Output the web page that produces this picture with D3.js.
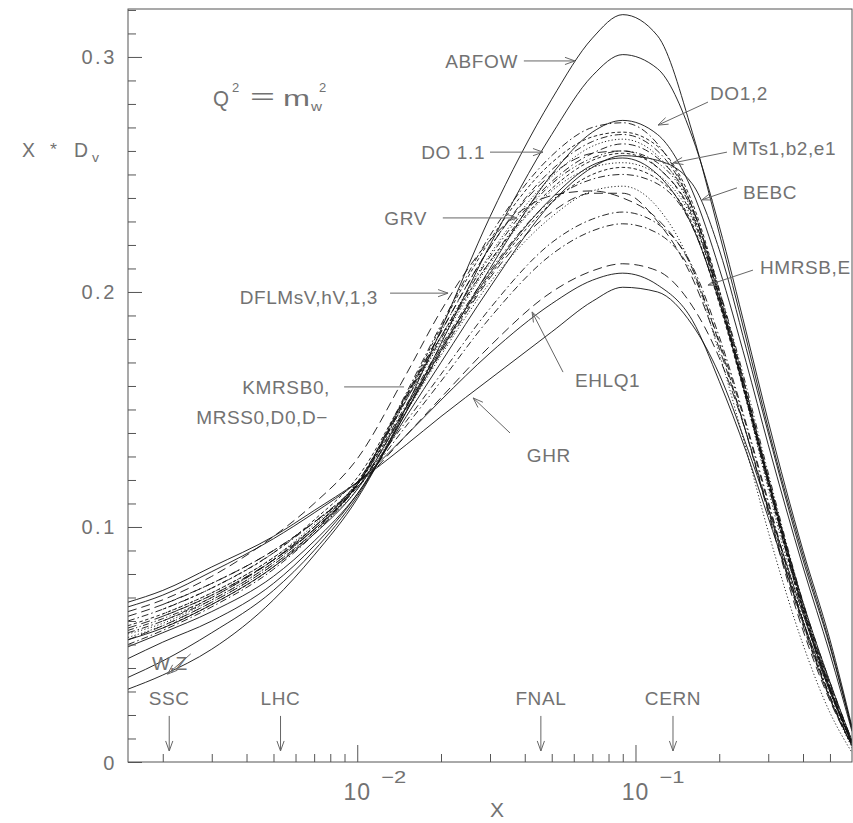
<!DOCTYPE html>
<html><head><meta charset="utf-8">
<script src="https://cdn.jsdelivr.net/npm/d3@7"></script>
<style>html,body{margin:0;padding:0;background:#fff;}svg{display:block;}</style>
</head><body>
<svg id="chart" width="853" height="823"></svg>
<script>
// ---------- data ----------
const xNodes = [0.0015,0.002,0.003,0.005,0.007,0.01,0.015,0.02,0.03,0.05,0.07,0.09,0.12,0.16,0.2,0.25,0.3,0.4,0.5,0.6];

const abfowA = [0.031,0.037,0.048,0.069,0.088,0.112,0.151,0.184,0.232,0.282,0.308,0.318,0.309,0.268,0.225,0.180,0.142,0.088,0.050,0.014];
const abfowB = [0.036,0.043,0.055,0.073,0.090,0.113,0.149,0.178,0.220,0.267,0.292,0.301,0.295,0.266,0.228,0.183,0.145,0.090,0.052,0.015];
const do12   = [0.044,0.051,0.060,0.076,0.092,0.114,0.149,0.175,0.210,0.250,0.268,0.273,0.267,0.243,0.210,0.170,0.135,0.083,0.046,0.013];
const bebc   = [0.049,0.055,0.064,0.079,0.094,0.114,0.147,0.170,0.202,0.238,0.253,0.258,0.256,0.246,0.218,0.176,0.140,0.086,0.049,0.014];
const mtSol  = [0.052,0.057,0.067,0.083,0.097,0.116,0.151,0.176,0.208,0.240,0.254,0.257,0.250,0.228,0.196,0.155,0.120,0.068,0.034,0.009];
const ehlq1  = [0.066,0.071,0.081,0.095,0.106,0.119,0.139,0.154,0.174,0.195,0.205,0.208,0.203,0.188,0.162,0.132,0.104,0.060,0.030,0.008];
const ghr    = [0.068,0.073,0.083,0.096,0.107,0.119,0.135,0.147,0.163,0.183,0.196,0.202,0.200,0.186,0.165,0.135,0.108,0.063,0.031,0.008];
const dflms  = [0.064,0.069,0.079,0.096,0.110,0.129,0.165,0.192,0.222,0.241,0.243,0.240,0.231,0.210,0.178,0.140,0.106,0.056,0.026,0.007];
const kmrsb  = [0.050,0.056,0.066,0.082,0.097,0.118,0.157,0.186,0.224,0.258,0.270,0.272,0.263,0.236,0.198,0.155,0.118,0.064,0.030,0.008];
const mrss0  = [null,0.062,0.071,0.086,0.100,0.119,0.156,0.183,0.219,0.252,0.264,0.267,0.260,0.236,0.199,0.156,0.119,0.065,0.031,0.008];
const mrsd0  = [0.055,0.060,0.070,0.086,0.100,0.119,0.155,0.181,0.215,0.247,0.259,0.263,0.257,0.236,0.200,0.158,0.121,0.066,0.032,0.008];
const grv    = [0.0545,0.059,0.069,0.085,0.099,0.118,0.154,0.181,0.216,0.249,0.262,0.265,0.258,0.234,0.197,0.154,0.116,0.061,0.027,0.006];
const dflm1  = [0.053,0.058,0.068,0.084,0.098,0.116,0.149,0.173,0.204,0.232,0.243,0.245,0.236,0.210,0.174,0.133,0.098,0.050,0.021,0.004];
const mts1   = [null,0.065,0.074,0.089,0.103,0.121,0.156,0.181,0.213,0.244,0.256,0.259,0.253,0.232,0.197,0.155,0.119,0.065,0.031,0.008];
const mtb2   = [0.058,0.063,0.072,0.087,0.100,0.118,0.151,0.175,0.207,0.238,0.250,0.253,0.248,0.229,0.195,0.154,0.118,0.064,0.030,0.008];
const hmrsb  = [0.060,0.065,0.074,0.089,0.102,0.118,0.145,0.165,0.193,0.221,0.231,0.234,0.229,0.211,0.181,0.144,0.111,0.060,0.028,0.007];
const hmrse  = [null,0.067,0.076,0.090,0.102,0.117,0.143,0.162,0.189,0.216,0.226,0.229,0.225,0.208,0.179,0.143,0.110,0.060,0.028,0.007];
const ehlq2  = [0.062,0.067,0.076,0.090,0.102,0.117,0.139,0.155,0.177,0.200,0.209,0.212,0.209,0.194,0.172,0.140,0.108,0.059,0.027,0.007];
const dflm3  = [0.057,0.062,0.071,0.086,0.099,0.117,0.150,0.174,0.206,0.234,0.242,0.242,0.230,0.206,0.176,0.140,0.107,0.058,0.027,0.007];
const mrsdm  = [0.052,0.058,0.068,0.084,0.098,0.118,0.155,0.183,0.219,0.250,0.259,0.260,0.253,0.233,0.198,0.157,0.121,0.067,0.033,0.009];
const mte1   = [null,0.063,0.072,0.087,0.101,0.119,0.154,0.179,0.212,0.243,0.253,0.255,0.250,0.231,0.198,0.157,0.121,0.067,0.033,0.009];
const do11   = [null,0.057,0.067,0.083,0.098,0.118,0.156,0.185,0.222,0.255,0.266,0.268,0.262,0.238,0.201,0.158,0.120,0.065,0.031,0.008];
const dflhv  = [0.056,0.061,0.070,0.086,0.099,0.118,0.154,0.180,0.213,0.246,0.257,0.260,0.255,0.235,0.201,0.160,0.123,0.068,0.034,0.009];
const kmrsx  = [null,0.060,0.069,0.085,0.099,0.118,0.152,0.177,0.209,0.239,0.248,0.250,0.246,0.228,0.196,0.156,0.120,0.066,0.032,0.008];

const series = [
  {values: abfowA, kind: "solid"},
  {values: abfowB, kind: "solid"},
  {values: do12,   kind: "solid"},
  {values: bebc,   kind: "solid"},
  {values: mtSol,  kind: "solid"},
  {values: ehlq1,  kind: "solid"},
  {values: ghr,    kind: "solid"},
  {values: dflms,  kind: "dashed"},
  {values: kmrsb,  kind: "dashdot"},
  {values: mrss0,  kind: "dashdot"},
  {values: mrsd0,  kind: "dashdot"},
  {values: grv,    kind: "dotted"},
  {values: dflm1,  kind: "dotted"},
  {values: mts1,   kind: "short"},
  {values: mtb2,   kind: "short"},
  {values: hmrsb,  kind: "dashdot"},
  {values: hmrse,  kind: "dashdot"},
  {values: ehlq2,  kind: "dashed"},
  {values: dflm3,  kind: "dashed"},
  {values: mrsdm,  kind: "dashed"},
  {values: mte1,   kind: "dotted"},
  {values: do11,   kind: "short"},
  {values: dflhv,  kind: "dashdotdot"},
  {values: kmrsx,  kind: "dashdot"}
];

const xMajorTicks = [0.01, 0.1];
const xMajorExp = ["\u22122", "\u22121"];
const xMinorTicks = [0.002,0.003,0.004,0.005,0.006,0.007,0.008,0.009,0.02,0.03,0.04,0.05,0.06,0.07,0.08,0.09,0.2,0.3,0.4,0.5];
const yMajorTicks = [0, 0.1, 0.2, 0.3];
const yMinorTicks = [0.01,0.02,0.03,0.04,0.05,0.06,0.07,0.08,0.09,0.11,0.12,0.13,0.14,0.15,0.16,0.17,0.18,0.19,0.21,0.22,0.23,0.24,0.25,0.26,0.27,0.28,0.29,0.31,0.32];

// annotations: label position and arrow in data coordinates
const notes = [
  {text:"ABFOW",        tx:0.0378, ty:0.2983, anchor:"end",   from:[0.0397,0.2983], to:[0.0606,0.2983]},
  {text:"DO1,2",        tx:0.1853, ty:0.2846, anchor:"start", from:[0.1822,0.2808], to:[0.1205,0.2710]},
  {text:"DO 1.1",       tx:0.0288, ty:0.2595, anchor:"end",   from:[0.0300,0.2595], to:[0.0465,0.2595]},
  {text:"MTs1,b2,e1",   tx:0.2222, ty:0.2612, anchor:"start", from:[0.2132,0.2595], to:[0.1364,0.2549]},
  {text:"BEBC",         tx:0.2434, ty:0.2425, anchor:"start", from:[0.2316,0.2443], to:[0.1734,0.2392]},
  {text:"GRV",          tx:0.0178, ty:0.2315, anchor:"end",   from:[0.0203,0.2315], to:[0.0375,0.2315]},
  {text:"HMRSB,E",      tx:0.2802, ty:0.2106, anchor:"start", from:[0.2644,0.2093], to:[0.1822,0.2029]},
  {text:"DFLMsV,hV,1,3",tx:0.01188,ty:0.1978, anchor:"end",   from:[0.01312,0.1995], to:[0.0212,0.1995]},
  {text:"KMRSB0,",      tx:0.00798,ty:0.1596, anchor:"end",   from:[0.00897,0.1596], to:[0.01473,0.1596], plain:true},
  {text:"MRSS0,D0,D\u2212", tx:0.00785,ty:0.1468, anchor:"end"},
  {text:"EHLQ1",        tx:0.0606, ty:0.1625, anchor:"start", from:[0.0549,0.1659], to:[0.0425,0.1915]},
  {text:"GHR",          tx:0.0407, ty:0.1306, anchor:"start", from:[0.0354,0.1400], to:[0.0261,0.1549]},
  {text:"W,Z",          tx:0.00183,ty:0.0421, anchor:"start", from:[0.00252,0.0460], to:[0.00208,0.0374]},
  {text:"SSC",          tx:0.00211,ty:0.0272, anchor:"middle",from:[0.00211,0.0196], to:[0.00211,0.0047]},
  {text:"LHC",          tx:0.0053, ty:0.0272, anchor:"middle",from:[0.0053,0.0196],  to:[0.0053,0.0047]},
  {text:"FNAL",         tx:0.0457, ty:0.0272, anchor:"middle",from:[0.0457,0.0196],  to:[0.0457,0.0047]},
  {text:"CERN",         tx:0.1364, ty:0.0272, anchor:"middle",from:[0.1364,0.0196],  to:[0.1364,0.0047]}
];

// ---------- drawing ----------
const W = 853, H = 823;
const pLeft = 128, pRight = 852, pTop = 9, pBottom = 762;
const svg = d3.select("#chart");
svg.append("rect").attr("width", W).attr("height", H).attr("fill", "#fff");

const x = d3.scaleLog().domain([0.0015, 0.6]).range([pLeft, pRight]);
const y = d3.scaleLinear().domain([0, 0.3204]).range([pBottom, pTop]);

const dash = {solid:null, dashed:"9,5", dashdot:"7,3,1.5,3", dotted:"1.2,2.2", short:"3.5,2.5", dashdotdot:"6,2.5,1.2,2.5,1.2,2.5"};
const textColor = "#727272";
const axisColor = "#555";
const font = "'Liberation Sans', Arial, sans-serif";

// curves
const line = d3.line()
  .defined(d => d[1] != null)
  .x(d => x(d[0])).y(d => y(d[1]))
  .curve(d3.curveMonotoneX);

svg.append("defs").append("clipPath").attr("id","clip")
  .append("rect").attr("x", pLeft).attr("y", pTop).attr("width", pRight-pLeft).attr("height", pBottom-pTop);

const gCurves = svg.append("g").attr("clip-path","url(#clip)");
series.forEach(s => {
  const pts = xNodes.map((xv, i) => [xv, s.values[i]]);
  gCurves.append("path")
    .attr("d", line(pts))
    .attr("fill", "none")
    .attr("stroke", "#111")
    .attr("stroke-width", 0.9)
    .attr("stroke-dasharray", dash[s.kind]);
});

// axes ticks (pointing inward)
function styleAxis(g) {
  g.select(".domain").remove();
  g.selectAll("line").attr("stroke", axisColor);
}
svg.append("g").attr("transform", `translate(0,${pBottom})`)
  .call(d3.axisBottom(x).tickValues(xMinorTicks).tickSize(-8).tickFormat(""))
  .call(styleAxis);
svg.append("g").attr("transform", `translate(0,${pBottom})`)
  .call(d3.axisBottom(x).tickValues(xMajorTicks).tickSize(-17).tickFormat(""))
  .call(styleAxis);
svg.append("g").attr("transform", `translate(${pLeft},0)`)
  .call(d3.axisLeft(y).tickValues(yMinorTicks).tickSize(-8).tickFormat(""))
  .call(styleAxis);
svg.append("g").attr("transform", `translate(${pLeft},0)`)
  .call(d3.axisLeft(y).tickValues(yMajorTicks).tickSize(-14).tickFormat(""))
  .call(styleAxis);

// y labels
const yLab = svg.append("g").attr("transform", `translate(${pLeft},0)`)
  .call(d3.axisLeft(y).tickValues(yMajorTicks).tickSize(0).tickPadding(11)
        .tickFormat(d => d === 0 ? "0" : d3.format(".1f")(d)));
yLab.select(".domain").remove();
yLab.selectAll("text").attr("fill", textColor).attr("font-size", 20)
  .attr("font-family", font).attr("letter-spacing", 2.6).attr("dy", "0.35em");

// frame
svg.append("rect").attr("x", pLeft).attr("y", pTop)
  .attr("width", pRight-pLeft).attr("height", pBottom-pTop)
  .attr("fill", "none").attr("stroke", axisColor).attr("stroke-width", 1);

// x labels (10^k)
xMajorTicks.forEach((v, i) => {
  svg.append("text").attr("x", x(v)).attr("y", 800).attr("text-anchor","middle")
    .attr("font-family", font).attr("font-size", 23).attr("fill", textColor)
    .attr("letter-spacing", 1).text("10");
  svg.append("text").attr("x", x(v) + 24).attr("y", 783)
    .attr("font-family", font).attr("font-size", 17).attr("fill", textColor)
    .attr("textLength", 25).attr("lengthAdjust", "spacingAndGlyphs")
    .text(xMajorExp[i]);
});

// axis titles
svg.append("text").attr("x", (pLeft+pRight)/2 + 7).attr("y", 817).attr("text-anchor","middle")
  .attr("font-family", font).attr("font-size", 21).attr("fill", textColor).text("X");

function piece(txt, px, py, size, len) {
  const t = svg.append("text").attr("x", px).attr("y", py)
    .attr("font-family", font).attr("font-size", size).attr("fill", textColor).text(txt);
  if (len) t.attr("textLength", len).attr("lengthAdjust", "spacingAndGlyphs");
  return t;
}
// y-axis title  X * D_v
piece("X", 22, 157, 21, 13);
piece("*", 50, 155, 17, 7);
piece("D", 74, 157, 21, 14);
piece("v", 92, 162, 13, 7);

// Q^2 = m_W^2, anchored at a data position
const qx = x(0.00303), qy = y(0.2829);
piece("Q", qx, qy + 9, 22, 16);
piece("2", qx + 19, qy - 5, 13);
piece("=", qx + 37, qy + 7, 22, 25);
piece("m", qx + 70, qy + 9, 22, 27);
piece("w", qx + 98, qy + 14, 13, 11);
piece("2", qx + 106, qy - 5, 13);

// annotations
function arrow(g, p0, p1) {
  const x0 = x(p0[0]), y0 = y(p0[1]), x1 = x(p1[0]), y1 = y(p1[1]);
  const a = Math.atan2(y1 - y0, x1 - x0);
  const L = 10, Wd = 3.6;
  const bx = x1 - L*Math.cos(a), by = y1 - L*Math.sin(a);
  const px = -Math.sin(a)*Wd, py = Math.cos(a)*Wd;
  g.append("path")
    .attr("d", `M${x0},${y0}L${x1},${y1}M${bx+px},${by+py}L${x1},${y1}L${bx-px},${by-py}`)
    .attr("fill","none").attr("stroke", "#666").attr("stroke-width", 1);
}
const gNotes = svg.append("g");
notes.forEach(n => {
  gNotes.append("text").attr("x", x(n.tx)).attr("y", y(n.ty)).attr("dy","0.36em")
    .attr("text-anchor", n.anchor).attr("font-family", font).attr("font-size", 19)
    .attr("letter-spacing", 0.6).attr("fill", textColor).text(n.text);
  if (n.from) {
    if (n.plain) {
      gNotes.append("line").attr("x1", x(n.from[0])).attr("y1", y(n.from[1]))
        .attr("x2", x(n.to[0])).attr("y2", y(n.to[1])).attr("stroke","#666");
    } else arrow(gNotes, n.from, n.to);
  }
});
</script>
</body></html>
